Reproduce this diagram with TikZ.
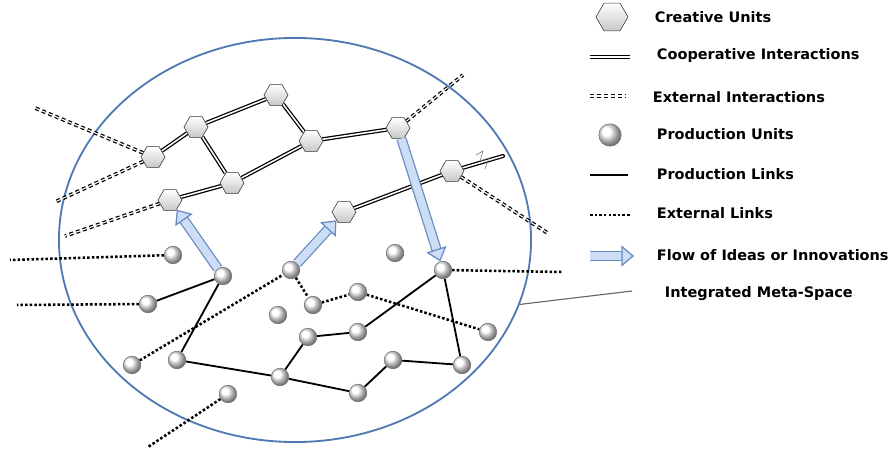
\documentclass[tikz,border=0pt]{standalone}
\usepackage{fontspec}
\setmainfont{DejaVu Sans}
\usepackage{tikz}
\usetikzlibrary{shapes.geometric}
\usetikzlibrary{arrows.meta}
\pgfdeclarelayer{background}
\pgfdeclarelayer{foreground}
\pgfsetlayers{background,main,foreground}
\definecolor{spaceblue}{RGB}{79,121,178}
\definecolor{flowblue}{RGB}{105,140,196}
\definecolor{flowfill}{RGB}{205,222,244}

\begin{document}
\begin{tikzpicture}[x=0.025cm, y=-0.025cm,
			cunit/.style={regular polygon, regular polygon sides=6, draw=black!80, thin, top color=white, bottom color=black!22, minimum size=6mm, inner sep=0pt},
			punit/.style={circle, draw=black!55, thin, ball color=white, minimum size=4.4mm, inner sep=0pt},
			coop/.style={draw=black, line width=0.9pt, double=white, double distance=1.1pt},
			extint/.style={preaction={draw=black, line width=2.6pt, dash pattern=on 2.8pt off 2.2pt}, draw=white, line width=0.8pt, dash pattern=on 2.8pt off 2.2pt},
			prod/.style={black, line width=1.3pt},
			extlink/.style={black, line width=1.8pt, dash pattern=on 1.8pt off 1.5pt},
			flow/.style={draw=flowblue, line width=0.9pt, double=flowfill, double distance=5.5pt, -{Triangle[length=9pt, width=15pt, fill=flowfill]}},
			legtext/.style={anchor=west, font=\bfseries\fontsize{10.3}{12}\selectfont},
			]
			\useasboundingbox (0,0) rectangle (895,452);
			%Creative units
			\node[cunit]      (c1)      at 	(276,95)      {};
			\node[cunit]      (c2)      at 	(196,127)     {};
			\node[cunit]      (c3)      at 	(153,157)     {};
			\node[cunit]      (c4)      at 	(232,183)     {};
			\node[cunit]      (c5)      at 	(311,141)     {};
			\node[cunit]      (c6)      at 	(398,128)     {};
			\node[cunit]      (c7)      at 	(170,200)     {};
			\node[cunit]      (c8)      at 	(344,212)     {};
			\node[cunit]      (c9)      at 	(452,171)     {};
			%Production units
			\node[punit]      (p1)      at 	(173,255)     {};
			\node[punit]      (p2)      at 	(223,276)     {};
			\node[punit]      (p3)      at 	(148,304)     {};
			\node[punit]      (p4)      at 	(132,365)     {};
			\node[punit]      (p5)      at 	(177,360)     {};
			\node[punit]      (p6)      at 	(228,394)     {};
			\node[punit]      (p7)      at 	(280,377)     {};
			\node[punit]      (p8)      at 	(291,270)     {};
			\node[punit]      (p9)      at 	(278,315)     {};
			\node[punit]      (p10)     at 	(395,253)     {};
			\node[punit]      (p11)     at 	(443,270)     {};
			\node[punit]      (p12)     at 	(313,305)     {};
			\node[punit]      (p13)     at 	(358,292)     {};
			\node[punit]      (p14)     at 	(308,337)     {};
			\node[punit]      (p15)     at 	(358,332)     {};
			\node[punit]      (p16)     at 	(488,332)     {};
			\node[punit]      (p17)     at 	(358,393)     {};
			\node[punit]      (p18)     at 	(393,360)     {};
			\node[punit]      (p19)     at 	(462,365)     {};
			%Free ends
			\coordinate (x1) at (35,108);
			\coordinate (x2) at (55,202);
			\coordinate (x3) at (65,236);
			\coordinate (x4) at (463,75);
			\coordinate (x5) at (549,234);
			\coordinate (z1) at (503,156);
			\coordinate (y1) at (10,260);
			\coordinate (y2) at (17,305);
			\coordinate (y3) at (148,447);
			\coordinate (y4) at (562,272);
			%Legend
			\node[cunit, minimum size=8mm]      (lc)      at 	(612,17)      {};
			\node[legtext]      (t1)      at 	(650,17)      {Creative Units};
			\coordinate (l2a) at (590,57);
			\coordinate (l2b) at (630,57);
			\node[legtext]      (t2)      at 	(652,56)      {Cooperative Interactions};
			\coordinate (l3a) at (590,96);
			\coordinate (l3b) at (626,96);
			\node[legtext]      (t3)      at 	(648,97)      {External Interactions};
			\node[punit, minimum size=5.6mm]      (lp)      at 	(610,135)     {};
			\node[legtext]      (t4)      at 	(652,134)     {Production Units};
			\coordinate (l5a) at (590,175);
			\coordinate (l5b) at (628,175);
			\node[legtext]      (t5)      at 	(652,174)     {Production Links};
			\coordinate (l6a) at (590,215);
			\coordinate (l6b) at (630,215);
			\node[legtext]      (t6)      at 	(652,213)     {External Links};
			\coordinate (l7a) at (590,256);
			\coordinate (l7b) at (634,256);
			\node[legtext]      (t7)      at 	(652,255)     {Flow of Ideas or Innovations};
			\coordinate (l8b) at (632,291);
			\node[legtext]      (t8)      at 	(660,294)     {Integrated Meta-Space};

			\begin{pgfonlayer}{background}
			%Space
			\node[ellipse, draw=spaceblue, line width=1.3pt, fill=white, minimum width=11.8cm, minimum height=10.1cm, inner sep=0pt] (space) at (295,240) {};
			%Lines
			\draw[coop] (c3) -- (c2) -- (c1) -- (c5) -- (c6);
			\draw[coop] (c2) -- (c4) -- (c5);
			\draw[coop] (c7) -- (c4);
			\draw[coop, line cap=round] (c8) -- (c9) -- (z1);
			\draw[extint] (c3) -- (x1);
			\draw[extint] (c3) -- (x2);
			\draw[extint] (c7) -- (x3);
			\draw[extint] (c6) -- (x4);
			\draw[extint] (c9) -- (x5);
			\draw[prod] (p3) -- (p2) -- (p5) -- (p7) -- (p14) -- (p15) -- (p11) -- (p19) -- (p18) -- (p17) -- (p7);
			\draw[extlink] (p1) -- (y1);
			\draw[extlink] (p3) -- (y2);
			\draw[extlink] (p4) -- (p8) -- (p12) -- (p13) -- (p16);
			\draw[extlink] (p6) -- (y3);
			\draw[extlink] (p11) -- (y4);
			\draw[black!60, line width=0.8pt] (space.-16) -- (l8b);
			\draw[coop] (l2a) -- (l2b);
			\draw[extint] (l3a) -- (l3b);
			\draw[prod] (l5a) -- (l5b);
			\draw[extlink] (l6a) -- (l6b);
			\end{pgfonlayer}

			\begin{pgfonlayer}{foreground}
			%Flows
			\draw[black!55, thin] (476,155) -- (483,151) -- (480,161) -- (489,158) -- (485,169);
			\draw[flow] (p2) -- (c7);
			\draw[flow] (p8) -- (c8);
			\draw[flow] (c6) -- (p11);
			\draw[flow] (l7a) -- (l7b);
			\end{pgfonlayer}
		\end{tikzpicture}
\end{document}
